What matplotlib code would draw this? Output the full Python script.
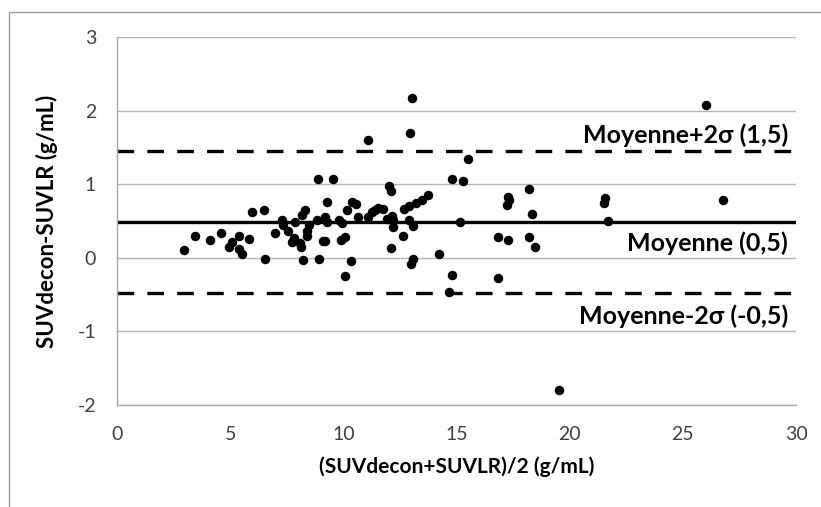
import matplotlib
matplotlib.use("Agg")
import matplotlib.pyplot as plt
from matplotlib.lines import Line2D
import numpy as np

plt.rcParams["font.family"] = ["Lato", "DejaVu Sans"]
plt.rcParams["lines.scale_dashes"] = False
plt.rcParams["axes.unicode_minus"] = False

# Bland-Altman data: mean of the two measures vs difference
mean_x = np.array([
    2.96, 3.46, 4.12, 4.58, 4.96, 5.07, 5.40, 5.51, 5.40, 5.85,
    5.98, 6.50, 6.55, 7.00, 7.28, 7.33, 7.57, 7.87, 7.82, 7.73,
    8.13, 8.09, 8.23, 8.19, 8.31, 8.41, 8.38, 8.50, 8.87, 9.56,
    8.94, 9.12, 9.19, 8.85, 9.19, 9.29, 9.29, 9.82, 9.90, 10.08,
    9.93, 10.18, 10.37, 10.56, 10.34, 10.08, 10.65, 11.11, 11.08, 12.95,
    13.05, 12.03, 12.09, 11.40, 11.55, 11.74, 11.92, 12.15, 12.18, 12.21,
    12.09, 12.62, 12.68, 12.90, 13.21, 13.46, 13.76, 12.92, 13.07, 13.09,
    12.98, 14.23, 14.79, 14.80, 14.67, 15.15, 15.53, 15.27, 16.82, 16.82,
    17.26, 17.27, 17.33, 17.25, 18.21, 18.33, 18.19, 18.48, 19.53, 21.56,
    21.52, 21.71, 26.03, 26.76, 11.25,
])
diff_y = np.array([
    0.10, 0.29, 0.245, 0.335, 0.14, 0.22, 0.12, 0.05, 0.30, 0.26,
    0.62, 0.65, -0.02, 0.335, 0.51, 0.45, 0.37, 0.485, 0.27, 0.21,
    0.15, 0.20, -0.035, 0.58, 0.65, 0.29, 0.36, 0.44, 1.07, 1.07,
    -0.01, 0.235, 0.235, 0.51, 0.56, 0.76, 0.485, 0.52, 0.245, 0.28,
    0.47, 0.65, 0.76, 0.73, -0.04, -0.25, 0.55, 0.55, 1.60, 1.70,
    2.17, 0.97, 0.91, 0.65, 0.675, 0.665, 0.525, 0.57, 0.51, 0.425,
    0.13, 0.29, 0.665, 0.71, 0.75, 0.79, 0.86, 0.52, 0.435, -0.02,
    -0.08, 0.05, 1.07, -0.24, -0.46, 0.48, 1.34, 1.04, 0.28, -0.27,
    0.245, 0.82, 0.78, 0.72, 0.93, 0.59, 0.28, 0.14, -1.79, 0.81,
    0.74, 0.50, 2.08, 0.79, 0.62,
])

mean_diff = 0.48
upper_lim = 1.445
lower_lim = -0.485
line_labels = ["Moyenne+2\u03c3 (1,5)", "Moyenne (0,5)", "Moyenne-2\u03c3 (-0,5)"]

fig = plt.figure(figsize=(8.21, 5.07), dpi=100)
ax = fig.add_axes([117 / 821, 1 - 405 / 507, (796 - 117) / 821, (405 - 37) / 507])

ax.set_xlim(0, 30)
ax.set_ylim(-2, 3)
ax.set_xticks([0, 5, 10, 15, 20, 25, 30])
ax.set_yticks([-2, -1, 0, 1, 2, 3])
ax.grid(axis="y", color="#b4b4b4", linewidth=1.0)
ax.set_axisbelow(True)
for s in ["top", "right"]:
    ax.spines[s].set_visible(False)
for s in ["left", "bottom"]:
    ax.spines[s].set_color("#a6a6a6")
    ax.spines[s].set_linewidth(1.0)
ax.tick_params(length=0, labelsize=14, colors="#404040", pad=15)

ax.axhline(mean_diff, color="black", linewidth=2.4, zorder=2)
ax.axhline(upper_lim, color="black", linewidth=2.4, dashes=(12, 9.5), zorder=2)
ax.axhline(lower_lim, color="black", linewidth=2.4, dashes=(12, 9.5), zorder=2)

ax.scatter(mean_x, diff_y, s=34, color="black", zorder=3, clip_on=False)

label_y = [1.67, 0.20, -0.80]
for txt, yy in zip(line_labels, label_y):
    ax.text(29.65, yy, txt, ha="right", va="center", fontsize=18, fontweight="bold")

ax.set_xlabel("(SUVdecon+SUVLR)/2 (g/mL)", fontsize=15, fontweight="bold", labelpad=10)
ax.set_ylabel("SUVdecon-SUVLR (g/mL)", fontsize=16, fontweight="bold")
ax.yaxis.set_label_coords(-0.087, 0.5)

# outer frame of the chart area
fig.add_artist(Line2D([9 / 821, 9 / 821], [0, 1 - 12 / 507], color="#a0a0a0", linewidth=1))
fig.add_artist(Line2D([9 / 821, 1], [1 - 12 / 507, 1 - 12 / 507], color="#a0a0a0", linewidth=1))

fig.savefig("out.png", dpi=100)
